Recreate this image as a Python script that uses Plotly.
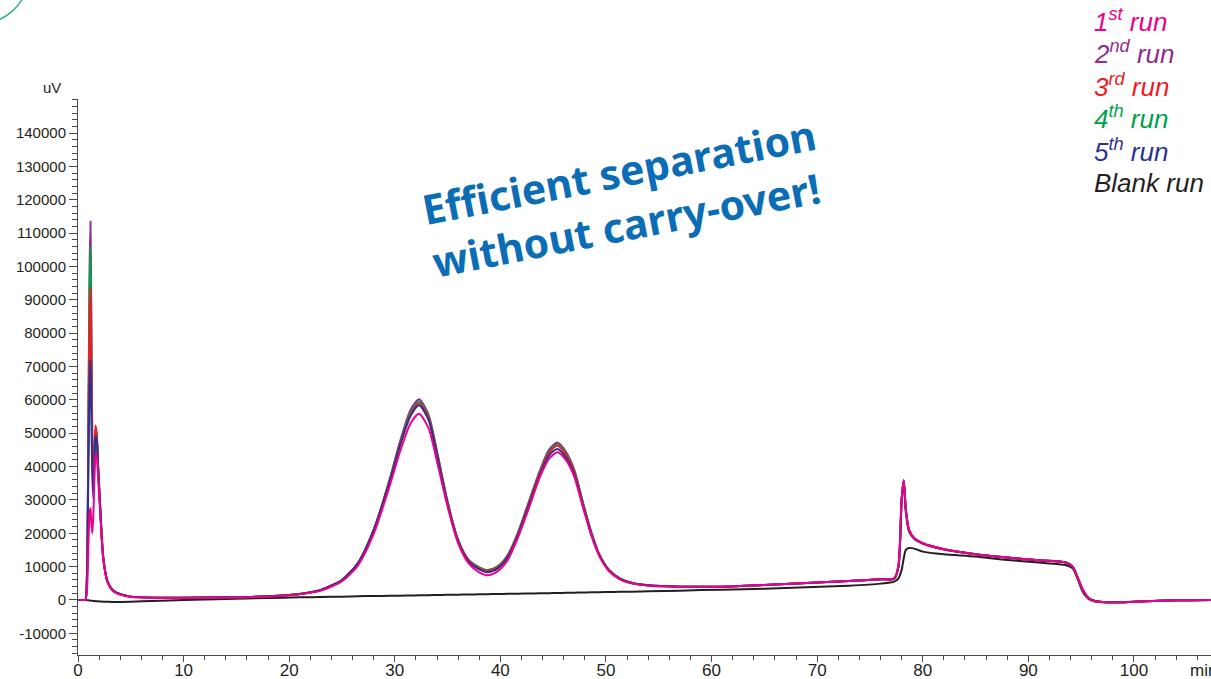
import plotly.graph_objects as go

# Retention time grid (min)
time_min = [0, 0.5, 0.7, 0.85, 1.0, 1.1, 1.18, 1.25, 1.35, 1.45, 1.55, 1.65, 1.75, 1.9, 2.1,
            2.4, 2.8, 3.3, 4.0, 5.0, 7, 10, 14, 18, 21, 23, 25, 26.5, 28, 29.5, 30.5, 31.5,
            32.3, 33.2, 34, 35, 36, 37, 38, 38.8, 39.7, 40.7, 41.7, 42.7, 43.7, 44.6, 45.4,
            46.2, 47, 47.8, 48.6, 49.4, 50.3, 51.3, 52.5, 54, 57, 61, 65, 69, 73, 76, 77.3,
            77.7, 78.0, 78.2, 78.4, 78.7, 79.2, 80, 82, 85, 88, 91, 93.5, 94.2, 94.7, 95.2,
            95.7, 96.3, 97, 98.5, 101, 104, 107.3]

# Detector signal (uV)
run_2 = [0, 0, 0, 8000, 60000, 100000, 113500, 90000, 50000, 33000, 42000, 50500, 50000, 40000,
         28000, 12500, 5500, 2900, 1700, 1000, 700, 650, 800, 1100, 1800, 3000, 6000, 11000,
         21000, 36000, 47500, 57000, 60200, 55500, 44500, 29500, 18000, 12000, 9800, 9000,
         10000, 13500, 20500, 29500, 38500, 45000, 47200, 44500, 39000, 29500, 20500, 13500,
         9000, 6500, 5100, 4400, 4000, 4000, 4500, 5100, 5700, 6200, 6400, 10000, 30000,
         36000, 27000, 21000, 18500, 17000, 15200, 13700, 12700, 11900, 11300, 10000, 6500,
         2500, 600, -300, -600, -700, -400, -100, 0]

run_4 = [0, 0, 0, 8000, 58000, 95000, 106000, 85000, 48000, 33000, 42000, 51000, 50000, 40000,
         28000, 12500, 5500, 2900, 1700, 1000, 700, 650, 800, 1100, 1800, 3000, 6000, 11000,
         21000, 35800, 47200, 56300, 59500, 55000, 44200, 29300, 17900, 11900, 9700, 8900,
         9900, 13400, 20300, 29200, 38000, 44500, 46700, 44000, 38600, 29300, 20300, 13400,
         8900, 6500, 5100, 4400, 4000, 4000, 4500, 5100, 5700, 6200, 6400, 10000, 30000,
         35800, 27000, 21000, 18500, 17000, 15200, 13700, 12700, 11900, 11300, 10000, 6500,
         2500, 600, -300, -600, -700, -400, -100, 0]

run_3 = [0, 0, 0, 7500, 55000, 85000, 93800, 75000, 45000, 33000, 43000, 52300, 50500, 40500,
         28000, 12500, 5500, 2900, 1700, 1000, 700, 650, 800, 1100, 1800, 3000, 6000, 11000,
         21000, 35500, 46800, 55800, 59000, 54500, 43800, 29000, 17800, 11800, 9500, 8700,
         9700, 13200, 20000, 28900, 37700, 44100, 46300, 43600, 38300, 29000, 20000, 13300,
         8900, 6400, 5100, 4400, 4000, 4000, 4500, 5100, 5700, 6200, 6400, 10000, 30000,
         35800, 27000, 21000, 18500, 17000, 15200, 13700, 12700, 11900, 11300, 10000, 6500,
         2500, 600, -300, -600, -700, -400, -100, 0]

run_5 = [0, 0, 0, 7000, 45000, 66000, 72000, 58000, 38000, 30500, 40000, 48500, 49000, 39500,
         27500, 12300, 5400, 2900, 1700, 1000, 700, 650, 800, 1100, 1800, 3000, 6000, 10900,
         20800, 35200, 46300, 55200, 58400, 54000, 43300, 28600, 17500, 11500, 9200, 8300,
         9300, 12800, 19600, 28400, 37000, 43300, 45300, 42800, 37600, 28500, 19700, 13200,
         8800, 6400, 5000, 4400, 4000, 4000, 4500, 5100, 5700, 6200, 6400, 10000, 29500,
         35500, 26500, 20500, 18300, 16900, 15100, 13700, 12700, 11900, 11300, 10000, 6500,
         2500, 600, -300, -600, -700, -400, -100, 0]

run_1 = [0, 0, 0, 3000, 18000, 26000, 27600, 24000, 20000, 25000, 36000, 43000, 43500, 37000,
         26000, 12000, 5200, 2700, 1600, 900, 650, 600, 750, 1000, 1700, 2800, 5600, 10300,
         19800, 34000, 44500, 53000, 55800, 51500, 41500, 28000, 17000, 11000, 8300, 7400,
         8500, 12000, 19000, 27500, 36500, 42300, 44300, 42000, 37000, 28000, 19500, 13000,
         8600, 6200, 4900, 4300, 4000, 4000, 4500, 5100, 5700, 6200, 6500, 10500, 30500,
         35800, 27000, 21000, 18500, 17000, 15200, 13700, 12700, 11900, 11200, 10000, 6500,
         3000, 600, -300, -600, -700, -400, -100, 0]

blank = [0, 0, 0, -50, -100, -150, -200, -200, -250, -300, -300, -350, -350, -400, -450, -500,
         -550, -600, -600, -550, -300, 0, 300, 600, 800, 900, 1000, 1100, 1200, 1250, 1300,
         1350, 1400, 1450, 1500, 1550, 1600, 1650, 1700, 1750, 1800, 1850, 1900, 1950, 2000,
         2050, 2100, 2150, 2200, 2250, 2300, 2350, 2400, 2450, 2500, 2600, 2800, 3100, 3400,
         3800, 4300, 4900, 5500, 6500, 9000, 12500, 15000, 15600, 15400, 14500, 13700, 13000,
         12000, 11200, 10500, 9500, 6000, 2200, 300, -500, -700, -700, -400, -100, 0]

series_names = ["Blank run", "2nd run", "4th run", "3rd run", "5th run", "1st run"]
series_values = [blank, run_2, run_4, run_3, run_5, run_1]
series_colors = ["#231F20", "#8E2C8F", "#00A14B", "#ED1C24", "#2E3192", "#EC008C"]

legend_labels = ["1<sup>st</sup> run", "2<sup>nd</sup> run", "3<sup>rd</sup> run",
                 "4<sup>th</sup> run", "5<sup>th</sup> run", "Blank run"]
legend_colors = ["#EC008C", "#8E2C8F", "#ED1C24", "#00A14B", "#2E3192", "#231F20"]

y_ticks = list(range(-10000, 140001, 10000))
y_ticktext = [str(v) for v in y_ticks]
x_ticks = list(range(0, 101, 10))

W, H = 1211, 679
ML, MR, MT, MB = 78, 0, 99, 24
PW, PH = W - ML - MR, H - MT - MB


def px_x(px):
    return (px - ML) / PW


def px_y(py):
    return (H - MB - py) / PH


fig = go.Figure()
for name, vals, col in zip(series_names, series_values, series_colors):
    fig.add_trace(go.Scatter(x=time_min, y=vals, name=name, mode="lines",
                             line=dict(color=col, width=2, shape="spline", smoothing=0.7),
                             showlegend=False))

axis_col = "#4a4a4a"
font_fam = "Liberation Sans, Arial, sans-serif"

fig.update_xaxes(range=[0, 107.3], showgrid=False, zeroline=False, showline=True,
                 linecolor=axis_col, linewidth=1, ticks="outside", ticklen=6,
                 tickcolor=axis_col, tickvals=x_ticks, automargin=False,
                 ticklabelstandoff=-6,
                 tickfont=dict(family=font_fam, size=17, color="#231F20"),
                 minor=dict(dtick=2, ticks="outside", ticklen=3.5, tickcolor=axis_col))
fig.update_yaxes(range=[-16500, 150200], showgrid=False, zeroline=False, showline=True,
                 linecolor=axis_col, linewidth=1, ticks="outside", ticklen=8,
                 tickcolor=axis_col, tickvals=y_ticks, ticktext=y_ticktext,
                 ticklabelstandoff=0, automargin=False,
                 tickfont=dict(family=font_fam, size=15, color="#231F20"),
                 minor=dict(dtick=2000, tick0=0, ticks="outside", ticklen=5, tickcolor=axis_col))

annotations = []
for i, (lab, col) in enumerate(zip(legend_labels, legend_colors)):
    annotations.append(dict(text="<i>" + lab + "</i>", x=px_x(1092), y=px_y(20 + i * 32.6),
                            xref="paper", yref="paper", xanchor="left", yanchor="middle",
                            showarrow=False, font=dict(family=font_fam, size=26, color=col)))

annotations.append(dict(text="uV", x=px_x(52), y=px_y(88), xref="paper", yref="paper",
                        xanchor="center", yanchor="middle", showarrow=False,
                        font=dict(family=font_fam, size=15, color="#231F20")))
annotations.append(dict(text="min", x=px_x(1188), y=px_y(670), xref="paper", yref="paper",
                        xanchor="left", yanchor="middle", showarrow=False,
                        font=dict(family=font_fam, size=17, color="#231F20")))
annotations.append(dict(text="<b>Efficient separation<br>without carry-over!</b>",
                        x=px_x(624), y=px_y(197), xref="paper", yref="paper",
                        xanchor="center", yanchor="middle", align="left", textangle=-11,
                        showarrow=False,
                        font=dict(family="Noto Sans, sans-serif", size=41, color="#0A6DB6")))

fig.update_layout(
    width=W, height=H,
    margin=dict(l=ML, r=MR, t=MT, b=MB, autoexpand=False),
    paper_bgcolor="white", plot_bgcolor="white",
    annotations=annotations,
    shapes=[dict(type="circle", xref="paper", yref="paper",
                 x0=px_x(-68.5), x1=px_x(28.5), y0=px_y(23.5), y1=px_y(-73.5),
                 line=dict(color="#2DB673", width=1.5))],
)

fig.write_html("out.html")
